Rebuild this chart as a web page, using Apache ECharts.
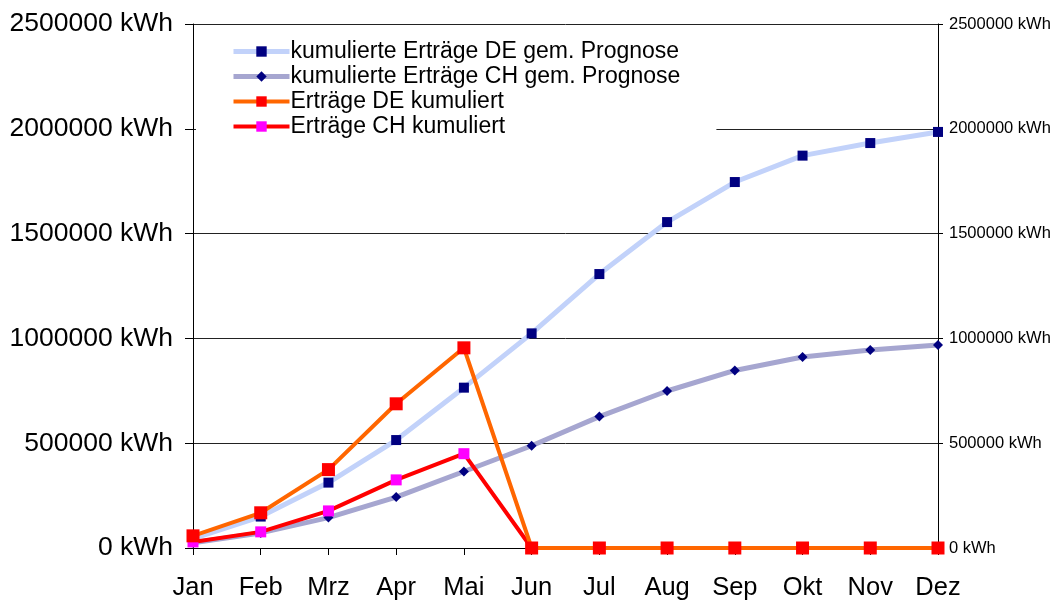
<!DOCTYPE html>
<html>
<head>
<meta charset="utf-8">
<script src="https://cdn.jsdelivr.net/npm/echarts@6/dist/echarts.min.js"></script>
<style>html,body{margin:0;padding:0;background:#fff}#c{width:1055px;height:601px}</style>
</head>
<body>
<div id="c"></div>
<script>
const months = ['Jan','Feb','Mrz','Apr','Mai','Jun','Jul','Aug','Sep','Okt','Nov','Dez'];
const yTicks = [0, 500000, 1000000, 1500000, 2000000, 2500000];
const progDE = [45000, 150000, 312000, 515000, 765000, 1024000, 1307000, 1555000, 1746000, 1872000, 1932000, 1985000];
const progCH = [25000, 72000, 145000, 243000, 365000, 488000, 627000, 749000, 847000, 911000, 945000, 969000];
const kumDE = [58000, 168000, 374000, 688000, 955000, 0, 0, 0, 0, 0, 0, 0];
const kumCH = [29000, 77000, 177000, 325000, 450000, 0, 0, 0, 0, 0, 0, 0];
const names = ['kumulierte Erträge DE gem. Prognose','kumulierte Erträge CH gem. Prognose','Erträge DE kumuliert','Erträge CH kumuliert'];

const chart = echarts.init(document.getElementById('c'), null, {renderer:'canvas'});
const F = 'Liberation Sans, Arial, sans-serif';
const yMax = yTicks[yTicks.length-1];
const yInt = yTicks[1]-yTicks[0];
chart.setOption({
  animation:false,
  backgroundColor:'#fff',
  grid:{left:193,right:117,top:24,bottom:53,containLabel:false},
  legend:{
    data:[
      {name:names[0],lineStyle:{width:5,color:'#c2d2fa'}},
      {name:names[1],lineStyle:{width:5,color:'#a6a6d0'}},
      {name:names[2],lineStyle:{width:4,color:'#ff6600'}},
      {name:names[3],lineStyle:{width:4,color:'#ff0000'}}
    ],
    orient:'vertical', left:196, top:38,
    backgroundColor:'#fff', padding:[2,36,4,35],
    itemWidth:56, itemHeight:13, itemGap:2,
    textStyle:{fontFamily:F,fontSize:23,color:'#000',padding:[0,0,0,-4]},
    z:10
  },
  xAxis:{
    type:'category', data:months, boundaryGap:false,
    axisLine:{lineStyle:{color:'#000',width:1}},
    axisTick:{show:true,alignWithLabel:true,length:7,lineStyle:{color:'#000'}},
    axisLabel:{fontFamily:F,fontSize:25.5,color:'#000',margin:27},
    splitLine:{show:false}
  },
  yAxis:[{
    type:'value', min:0, max:yMax, interval:yInt,
    axisLine:{show:true,lineStyle:{color:'#000'}},
    axisTick:{show:true,length:8,lineStyle:{color:'#000'}},
    axisLabel:{fontFamily:F,fontSize:26.5,color:'#000',margin:20,formatter:v=>v+' kWh'},
    splitLine:{show:true,lineStyle:{color:'#222',width:1}}
  },{
    type:'value', min:0, max:yMax, interval:yInt, position:'right',
    axisLine:{show:true,lineStyle:{color:'#000'}},
    axisTick:{show:true,length:5,lineStyle:{color:'#000'}},
    axisLabel:{fontFamily:F,fontSize:16.5,color:'#000',margin:11,formatter:v=>v+' kWh'},
    splitLine:{show:false}
  }],
  series:[
    {name:names[0],type:'line',data:progDE,symbol:'rect',symbolSize:10,
     lineStyle:{color:'#c2d2fa',width:5},itemStyle:{color:'#000080'},z:2},
    {name:names[1],type:'line',data:progCH,symbol:'diamond',symbolSize:10,
     lineStyle:{color:'#a6a6d0',width:5},itemStyle:{color:'#000080'},z:2},
    {name:names[3],type:'line',data:kumCH,symbol:'rect',symbolSize:11,
     lineStyle:{color:'#ff0000',width:4},itemStyle:{color:'#ff00ff'},z:3},
    {name:names[2],type:'line',data:kumDE,symbol:'rect',symbolSize:13,
     lineStyle:{color:'#ff6600',width:4},itemStyle:{color:'#ff0000'},z:4}
  ]
});
</script>
</body>
</html>
